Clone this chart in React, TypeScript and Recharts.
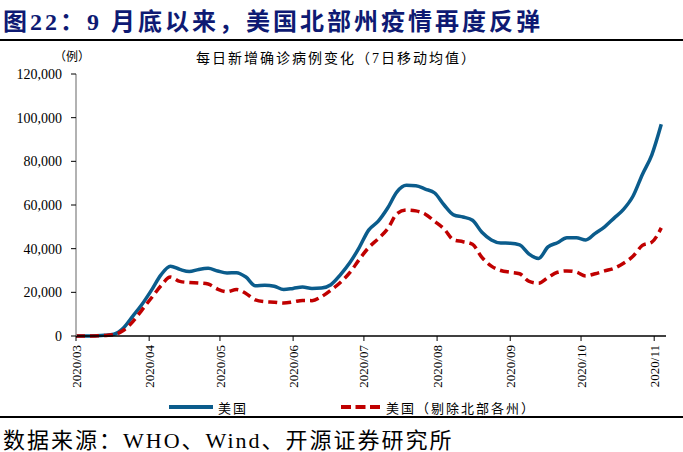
import { LineChart, Line, XAxis, YAxis, Legend } from 'recharts'

// days since 2020-03-01, sampled every 4 days
const days = [
  0, 4, 8, 12, 16, 20, 24, 28, 32, 36, 40, 44, 48, 52, 56, 60, 64, 68, 72, 76, 80,
  84, 88, 92, 96, 100, 104, 108, 112, 116, 120, 124, 128, 132, 136, 140, 144, 148,
  152, 156, 160, 164, 168, 172, 176, 180, 184, 188, 192, 196, 200, 204, 208, 212,
  216, 220, 224, 228, 232, 236, 240, 244, 248,
]

const usCases = [
  0, 0, 100, 300, 800, 3500, 9000, 14500, 21000, 28000, 32000, 30500, 29500, 30500,
  31000, 29800, 28900, 29000, 27000, 23000, 23300, 22800, 21300, 21800, 22400, 21800,
  22000, 23500, 28000, 33500, 40500, 48500, 52500, 58500, 66000, 69000, 68800, 67300,
  65500, 60000, 55500, 54500, 53000, 47500, 44000, 42600, 42500, 41700, 37500, 35500,
  40800, 42700, 45000, 45000, 44000, 47000, 50000, 54000, 58000, 64000, 74000, 83000,
  97000,
]

const usExNorth = [
  0, 0, 50, 200, 600, 2500, 6500, 12000, 17500, 23000, 27000, 25000, 24500, 24300,
  23800, 21500, 20300, 21300, 19500, 16500, 15700, 15500, 15100, 15600, 16300, 16200,
  18000, 21000, 24500, 29000, 35000, 40500, 44500, 49000, 56000, 57700, 57300, 55800,
  52500, 49000, 44000, 43200, 42000, 36000, 32000, 30000, 29200, 28500, 25000, 24200,
  26800, 29200, 29800, 29300, 27500, 28500, 29800, 31000, 33300, 36500, 41500, 43000,
  49500,
]

const monthTicks = [0, 31, 61, 92, 122, 153, 184, 214, 245]
const monthLabels = [
  '2020/03', '2020/04', '2020/05', '2020/06', '2020/07', '2020/08', '2020/09', '2020/10', '2020/11',
]
const yTicks = [0, 20000, 40000, 60000, 80000, 100000, 120000]

const BLUE = '#0b5c8c'
const RED = '#c00000'
const SERIF = '"Liberation Serif", "Noto Sans CJK SC", serif'

const data = days.map((d, i) => ({ d, us: usCases[i], ex: usExNorth[i] }))

function MonthTick(props: any) {
  const { x, y, payload } = props
  const idx = monthTicks.indexOf(payload.value)
  return (
    <text
      transform={`translate(${x},${y + 2}) rotate(-90)`}
      textAnchor="end"
      dy="0.35em"
      style={{ fontSize: 13, fontFamily: SERIF }}
      fill="#000"
    >
      {monthLabels[idx]}
    </text>
  )
}

function ValueTick(props: any) {
  const { x, y, payload } = props
  return (
    <text
      x={x - 4}
      y={y}
      dy="0.35em"
      textAnchor="end"
      style={{ fontSize: 14, fontFamily: SERIF }}
      fill="#000"
    >
      {Number(payload.value).toLocaleString('en-US')}
    </text>
  )
}

function ChartLegend() {
  return (
    <div style={{ position: 'relative', height: 20, fontFamily: SERIF, fontSize: 13 }}>
      <svg width={683} height={20} style={{ position: 'absolute', left: 0, top: 0 }}>
        <line x1={161} x2={205} y1={9} y2={9} stroke={BLUE} strokeWidth={4} />
        <line x1={333} x2={372} y1={9} y2={9} stroke={RED} strokeWidth={4} strokeDasharray="10 4.5" />
      </svg>
      <span style={{ position: 'absolute', left: 210, top: 0, letterSpacing: 2 }}>美国</span>
      <span style={{ position: 'absolute', left: 378, top: 0, letterSpacing: 2 }}>美国（剔除北部各州）</span>
    </div>
  )
}

export default function App() {
  return (
    <div
      style={{
        position: 'absolute',
        left: 0,
        top: 0,
        width: 683,
        height: 452,
        background: '#fff',
        overflow: 'hidden',
      }}
    >
      <div
        style={{
          position: 'absolute',
          left: 3,
          top: 2,
          fontSize: 24,
          fontWeight: 'bold',
          color: '#0e1a73',
          fontFamily: SERIF,
          whiteSpace: 'nowrap',
          letterSpacing: 3,
        }}
      >
        图22：9 月底以来，美国北部州疫情再度反弹
      </div>
      <div style={{ position: 'absolute', left: 0, top: 39, width: 683, height: 2, background: '#000' }} />

      <div style={{ position: 'absolute', left: 54, top: 47, fontSize: 12, fontFamily: SERIF }}>（例）</div>
      <div
        style={{
          position: 'absolute',
          left: 196,
          top: 47,
          fontSize: 14,
          fontFamily: SERIF,
          letterSpacing: 2,
          whiteSpace: 'nowrap',
        }}
      >
        每日新增确诊病例变化（7日移动均值）
      </div>

      <div style={{ position: 'absolute', left: 0, top: 0 }}>
        <LineChart
          width={683}
          height={420}
          data={data}
          margin={{ top: 74, right: 17, bottom: 0, left: 8 }}
        >
          <XAxis
            dataKey="d"
            type="number"
            domain={[0, 250]}
            ticks={monthTicks}
            interval={0}
            tick={<MonthTick />}
            tickLine={{ stroke: '#000' }}
            tickSize={5}
            axisLine={{ stroke: '#000', strokeWidth: 1.5 }}
            height={62}
          />
          <YAxis
            domain={[0, 120000]}
            ticks={yTicks}
            width={68}
            tick={<ValueTick />}
            tickLine={{ stroke: '#000' }}
            tickSize={5}
            tickMargin={5}
            axisLine={{ stroke: '#999', strokeWidth: 1.5 }}
          />
          <Legend verticalAlign="bottom" height={22} content={() => <ChartLegend />} />
          <Line
            type="monotone"
            dataKey="us"
            stroke={BLUE}
            strokeWidth={3.5}
            dot={false}
            activeDot={false}
            isAnimationActive={false}
          />
          <Line
            type="monotone"
            dataKey="ex"
            stroke={RED}
            strokeWidth={3.5}
            strokeDasharray="9 5"
            dot={false}
            activeDot={false}
            isAnimationActive={false}
          />
        </LineChart>
      </div>

      <div style={{ position: 'absolute', left: 0, top: 416, width: 683, height: 2, background: '#000' }} />
      <div
        style={{
          position: 'absolute',
          left: 3,
          top: 422,
          fontSize: 22,
          fontFamily: SERIF,
          whiteSpace: 'nowrap',
          letterSpacing: 2,
        }}
      >
        数据来源：WHO、Wind、开源证券研究所
      </div>
    </div>
  )
}
